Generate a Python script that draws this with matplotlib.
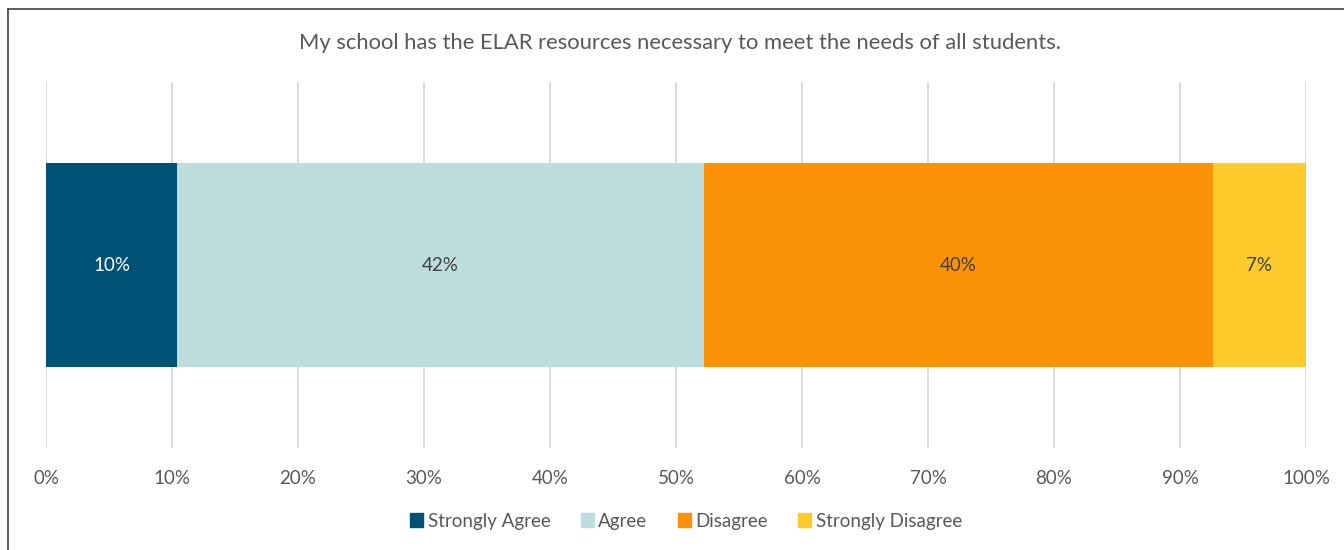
import matplotlib
matplotlib.use("Agg")
import matplotlib.pyplot as plt
from matplotlib.lines import Line2D

plt.rcParams['font.family'] = ['Lato', 'DejaVu Sans']

title = "My school has the ELAR resources necessary to meet the needs of all students."
categories = ["Strongly Agree", "Agree", "Disagree", "Strongly Disagree"]
values = [10.4, 41.8, 40.4, 7.4]
colors = ["#005274", "#BDDEDC", "#FC9207", "#FFCA2C"]
label_colors = ["white", "#404040", "#404040", "#404040"]
ticks = [0, 10, 20, 30, 40, 50, 60, 70, 80, 90, 100]

fig = plt.figure(figsize=(13.44, 5.5), dpi=100)
ax = fig.add_axes([46/1344, 1-448/550, (1306-46)/1344, (448-82)/550])

left = 0
for cat, v, c, lc in zip(categories, values, colors, label_colors):
    ax.barh(0, v, left=left, height=0.557, color=c, label=cat, zorder=3)
    ax.text(left + v/2, 0, f"{v:.0f}%", ha='center', va='center',
            color=lc, fontsize=13.5, zorder=4)
    left += v

ax.set_xlim(0, 100)
ax.set_ylim(-0.5, 0.5)
ax.set_yticks([])
ax.set_xticks(ticks)
ax.set_xticklabels([f"{t}%" for t in ticks], color="#595959", fontsize=13.5)
ax.tick_params(axis='x', length=0, pad=16)
ax.grid(axis='x', color="#D9D9D9", linewidth=1.3, zorder=0)
for s in ax.spines.values():
    s.set_visible(False)

fig.text(680/1344, 1-43/550, title, ha='center', va='center',
         color="#595959", fontsize=15.8)

handles = [plt.Rectangle((0, 0), 1, 1, color=c) for c in colors]
fig.legend(handles, categories, loc='center', bbox_to_anchor=(686/1344, 1-521/550),
           ncol=4, frameon=False, fontsize=13.5, handlelength=0.7, handleheight=0.7,
           handletextpad=0.25, columnspacing=1.6, labelcolor="#595959")

# outer frame
fig.add_artist(Line2D([8/1344, 8/1344], [0, 1-9/550], transform=fig.transFigure,
                      color="#404040", linewidth=1.2))
fig.add_artist(Line2D([8/1344, 1], [1-9/550, 1-9/550], transform=fig.transFigure,
                      color="#404040", linewidth=1.2))

fig.savefig("out.png", dpi=100, facecolor="white")
